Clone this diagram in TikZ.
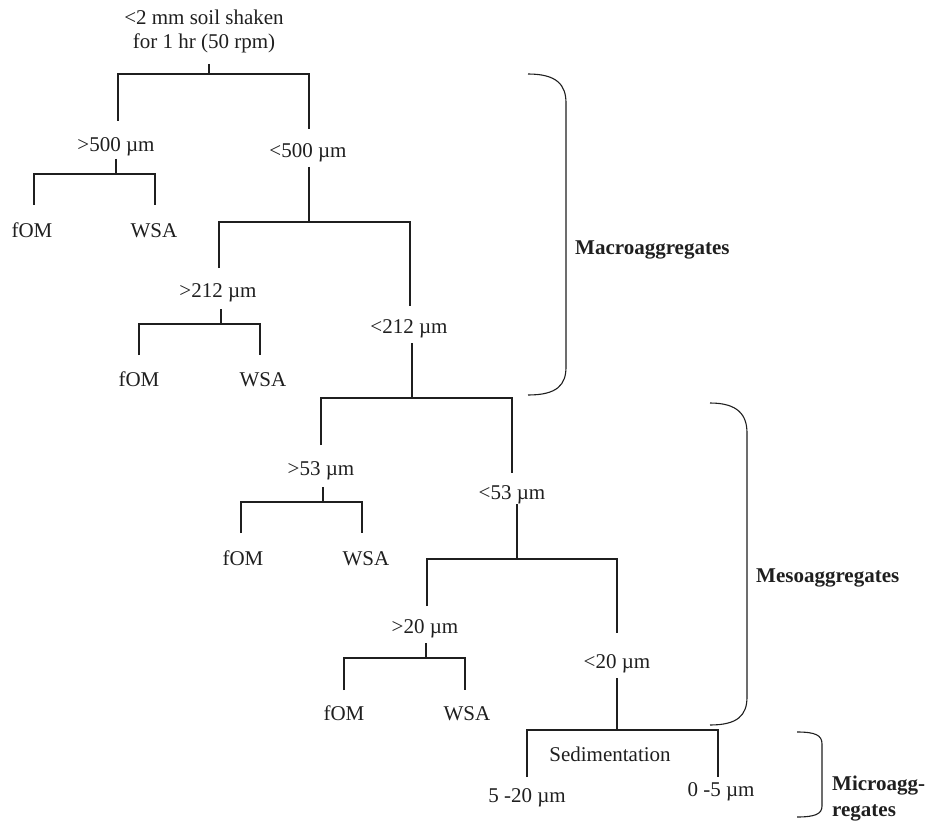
\documentclass[tikz,border=0pt]{standalone}
\usepackage{fontspec}
\setmainfont{Liberation Serif}
\newcommand{\treesplit}[8]{%
  \coordinate (#1top) at (#2,#3);
  \coordinate (#1bar) at (#2,#4);
  \coordinate (#1L) at (#5,#6);
  \coordinate (#1R) at (#7,#8);
  \draw[conn] (#1top) -- (#1bar);
  \draw[conn] (#1L) -- (#1L |- #1bar) -- (#1R |- #1bar) -- (#1R);
}
\begin{document}
\begin{tikzpicture}[x=1pt,y=-1pt,
  conn/.style={line width=1.1pt, draw=black!88},
  lbl/.style={inner sep=0pt, anchor=base, font=\fontsize{21}{25}\selectfont, text=black!88},
  grp/.style={inner sep=0pt, anchor=base west, font=\fontsize{21}{25}\selectfont\bfseries, text=black!88}]
\useasboundingbox (0,0) rectangle (926,821);

% labels
\node[lbl] (title1) at (204,25) {<2 mm soil shaken};
\node[lbl] (title2) at (204,49) {for 1 hr (50 rpm)};
\node[lbl] (g500) at (116,152) {>500 µm};
\node[lbl] (l500) at (308,158) {<500 µm};
\node[lbl] (fom1) at (32,237) {fOM};
\node[lbl] (wsa1) at (154,237) {WSA};
\node[lbl] (g212) at (218,297) {>212 µm};
\node[lbl] (l212) at (409,333) {<212 µm};
\node[lbl] (fom2) at (139,386) {fOM};
\node[lbl] (wsa2) at (263,386) {WSA};
\node[lbl] (g53) at (321,475) {>53 µm};
\node[lbl] (l53) at (512,499) {<53 µm};
\node[lbl] (fom3) at (243,565) {fOM};
\node[lbl] (wsa3) at (366,565) {WSA};
\node[lbl] (g20) at (425,633) {>20 µm};
\node[lbl] (l20) at (617,668) {<20 µm};
\node[lbl] (fom4) at (344,720) {fOM};
\node[lbl] (wsa4) at (467,720) {WSA};
\node[lbl] (sed) at (610,761) {Sedimentation};
\node[lbl] (f520) at (527,802) {5 -20 µm};
\node[lbl] (f05) at (721,796) {0 -5 µm};
\node[grp] (macro) at (575,254) {Macroaggregates};
\node[grp] (meso) at (756,582) {Mesoaggregates};
\node[grp] (micro1) at (832,790) {Microagg-};
\node[grp] (micro2) at (832,816) {regates};

% tree connectors
\treesplit{sA}{209}{64}{74}{118}{121}{309}{129}
\treesplit{sB}{116}{159}{174}{34}{205}{155}{205}
\treesplit{sC}{309}{167}{222}{219}{268}{410}{306}
\treesplit{sD}{221}{309}{324}{139}{355}{260}{355}
\treesplit{sE}{412}{343}{398}{321}{445}{512}{473}
\treesplit{sF}{323}{487}{502}{241}{533}{362}{533}
\treesplit{sG}{517}{504}{559}{427}{606}{617}{633}
\treesplit{sH}{426}{643}{658}{344}{690}{465}{690}
\treesplit{sI}{617}{678}{730}{527}{777}{718}{777}

% brackets
\coordinate (macT) at (528,74);
\coordinate (macB) at (528,395);
\draw[conn] (macT) .. controls (557,74) and (566,85) .. (566,103)
  -- (566,367) .. controls (566,385) and (557,395) .. (macB);
\coordinate (mesT) at (710,403);
\coordinate (mesB) at (710,725);
\draw[conn] (mesT) .. controls (738,403) and (747,415) .. (747,433)
  -- (747,697) .. controls (747,715) and (738,725) .. (mesB);
\coordinate (micT) at (797,732);
\coordinate (micB) at (797,817);
\draw[conn] (micT) .. controls (815,732) and (822,735) .. (822,744)
  -- (822,806) .. controls (822,814) and (815,817) .. (micB);
\end{tikzpicture}
\end{document}
